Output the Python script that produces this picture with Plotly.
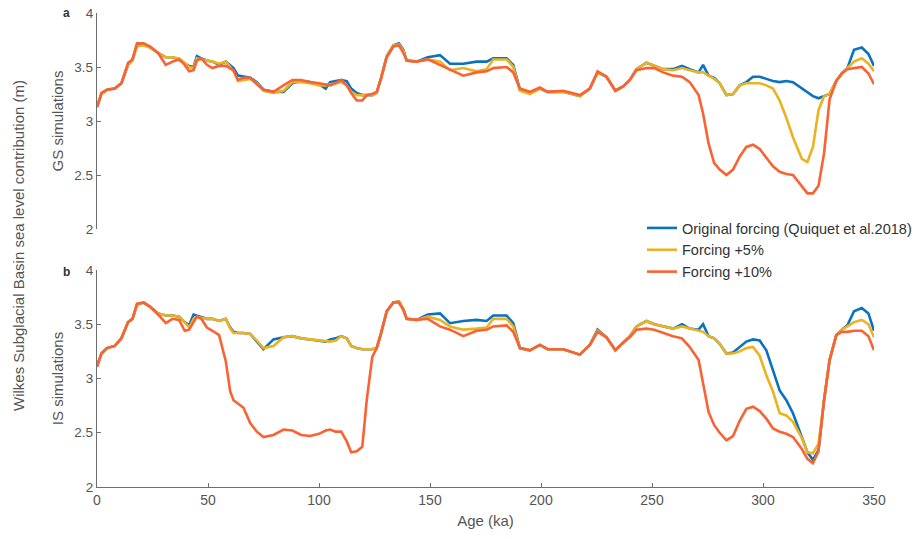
import plotly.graph_objects as go

age_ka = [0, 2, 4.5, 8, 11, 14, 16, 18, 21, 24, 27.5, 31, 34, 37, 39.5, 41.5, 43.5, 45, 47, 49.5,
          52, 55, 58, 60, 61.5, 63.5, 66, 69, 72, 75, 79.5, 84, 88, 92, 96, 100, 103, 105, 107.5, 110,
          112.5, 114.5, 117, 119.5, 121.5, 124, 126, 128, 130.5, 133.5, 136, 138, 139.5, 144, 149, 154.5,
          159, 165, 171, 175.5, 178.5, 184.5, 187.5, 190.5, 195, 199.5, 203, 210, 217.5, 222, 225.5,
          229.5, 233.5, 237, 240, 243, 247.5, 251, 255, 259.5, 263.5, 267, 271, 273, 275.5, 278, 280.5,
          283.5, 286.5, 289.5, 292.5, 295.5, 298.5, 301.5, 304.5, 307.5, 310.5, 313.5, 317.5, 320, 322.5,
          325, 327.5, 330, 333, 335.5, 338, 341, 344.5, 347.5, 350]

gs_original = [3.13, 3.25, 3.29, 3.30, 3.35, 3.52, 3.57, 3.70, 3.71, 3.68, 3.63, 3.59, 3.59, 3.57, 3.53, 3.51, 3.50, 3.60, 3.58, 3.56,
               3.55, 3.52, 3.55, 3.52, 3.49, 3.42, 3.41, 3.40, 3.36, 3.29, 3.27, 3.27, 3.35, 3.37, 3.36, 3.34, 3.30, 3.36, 3.37, 3.38,
               3.37, 3.30, 3.26, 3.24, 3.24, 3.24, 3.26, 3.40, 3.60, 3.70, 3.72, 3.66, 3.56, 3.55, 3.59, 3.61,
               3.53, 3.53, 3.55, 3.55, 3.58, 3.58, 3.52, 3.29, 3.26, 3.30, 3.27, 3.27, 3.23, 3.30, 3.45,
               3.41, 3.28, 3.32, 3.38, 3.48, 3.54, 3.51, 3.48, 3.48, 3.51, 3.48, 3.45, 3.52, 3.42, 3.40, 3.35,
               3.24, 3.25, 3.33, 3.36, 3.41, 3.41, 3.39, 3.37, 3.36, 3.37, 3.36, 3.30, 3.27, 3.23,
               3.21, 3.23, 3.25, 3.37, 3.44, 3.49, 3.66, 3.68, 3.62, 3.51]

gs_plus5 = [3.13, 3.25, 3.29, 3.30, 3.35, 3.52, 3.56, 3.69, 3.70, 3.68, 3.63, 3.59, 3.59, 3.58, 3.54, 3.50, 3.49, 3.58, 3.57, 3.56,
            3.55, 3.53, 3.55, 3.50, 3.46, 3.37, 3.38, 3.39, 3.35, 3.28, 3.26, 3.28, 3.36, 3.36, 3.35, 3.33, 3.33, 3.34, 3.35, 3.36,
            3.33, 3.27, 3.24, 3.24, 3.24, 3.24, 3.26, 3.40, 3.60, 3.70, 3.71, 3.65, 3.56, 3.55, 3.57, 3.55,
            3.47, 3.49, 3.46, 3.48, 3.57, 3.57, 3.50, 3.28, 3.25, 3.30, 3.27, 3.27, 3.23, 3.30, 3.45,
            3.41, 3.28, 3.32, 3.38, 3.48, 3.54, 3.51, 3.48, 3.47, 3.49, 3.47, 3.45, 3.45, 3.42, 3.39, 3.35,
            3.24, 3.25, 3.33, 3.35, 3.35, 3.35, 3.33, 3.30, 3.19, 3.03, 2.85, 2.65, 2.62, 2.76,
            3.10, 3.23, 3.25, 3.37, 3.44, 3.49, 3.55, 3.58, 3.53, 3.46]

gs_plus10 = [3.13, 3.26, 3.29, 3.30, 3.35, 3.54, 3.57, 3.72, 3.72, 3.69, 3.63, 3.52, 3.55, 3.57, 3.52, 3.46, 3.47, 3.56, 3.58, 3.52,
             3.49, 3.51, 3.51, 3.49, 3.47, 3.38, 3.40, 3.40, 3.34, 3.29, 3.27, 3.33, 3.38, 3.38, 3.36, 3.35, 3.34, 3.33, 3.35, 3.38,
             3.33, 3.26, 3.19, 3.19, 3.24, 3.25, 3.27, 3.40, 3.59, 3.69, 3.70, 3.63, 3.56, 3.55, 3.57, 3.52,
             3.48, 3.42, 3.45, 3.46, 3.49, 3.50, 3.45, 3.30, 3.27, 3.31, 3.27, 3.28, 3.24, 3.30, 3.46,
             3.41, 3.28, 3.32, 3.38, 3.47, 3.49, 3.49, 3.45, 3.42, 3.41, 3.36, 3.24, 3.07, 2.79, 2.61, 2.55,
             2.50, 2.55, 2.67, 2.76, 2.78, 2.74, 2.66, 2.58, 2.53, 2.51, 2.50, 2.39, 2.33, 2.33,
             2.40, 2.70, 3.20, 3.37, 3.44, 3.48, 3.49, 3.50, 3.44, 3.34]

is_original = [3.11, 3.23, 3.28, 3.30, 3.37, 3.52, 3.55, 3.68, 3.70, 3.66, 3.60, 3.58, 3.58, 3.57, 3.52, 3.49, 3.59, 3.58, 3.56, 3.55,
               3.55, 3.53, 3.55, 3.47, 3.43, 3.42, 3.42, 3.41, 3.34, 3.27, 3.36, 3.38, 3.39, 3.37, 3.36, 3.35, 3.34, 3.36, 3.37, 3.39,
               3.37, 3.30, 3.28, 3.27, 3.27, 3.27, 3.28, 3.42, 3.62, 3.70, 3.71, 3.64, 3.55, 3.54, 3.59, 3.60,
               3.51, 3.53, 3.54, 3.53, 3.58, 3.58, 3.51, 3.28, 3.26, 3.31, 3.27, 3.27, 3.22, 3.31, 3.45,
               3.38, 3.26, 3.33, 3.39, 3.48, 3.53, 3.50, 3.48, 3.46, 3.50, 3.46, 3.45, 3.50, 3.39, 3.37, 3.32,
               3.23, 3.24, 3.29, 3.34, 3.36, 3.35, 3.26, 3.07, 2.89, 2.80, 2.68, 2.46, 2.32, 2.25,
               2.34, 2.80, 3.17, 3.40, 3.45, 3.49, 3.62, 3.65, 3.60, 3.44]

is_plus5 = [3.11, 3.23, 3.28, 3.30, 3.37, 3.52, 3.55, 3.68, 3.70, 3.66, 3.60, 3.58, 3.58, 3.57, 3.52, 3.47, 3.55, 3.57, 3.56, 3.55,
            3.55, 3.53, 3.55, 3.46, 3.42, 3.42, 3.42, 3.41, 3.35, 3.28, 3.30, 3.38, 3.39, 3.37, 3.36, 3.35, 3.34, 3.34, 3.35, 3.39,
            3.37, 3.30, 3.28, 3.27, 3.27, 3.27, 3.28, 3.42, 3.62, 3.70, 3.71, 3.64, 3.55, 3.54, 3.57, 3.54,
            3.48, 3.45, 3.46, 3.47, 3.55, 3.55, 3.48, 3.28, 3.26, 3.31, 3.27, 3.27, 3.22, 3.31, 3.44,
            3.38, 3.26, 3.33, 3.39, 3.48, 3.53, 3.50, 3.48, 3.46, 3.48, 3.46, 3.44, 3.43, 3.39, 3.37, 3.32,
            3.23, 3.23, 3.25, 3.28, 3.29, 3.21, 3.03, 2.88, 2.68, 2.66, 2.60, 2.45, 2.32, 2.31,
            2.40, 2.80, 3.17, 3.40, 3.45, 3.48, 3.52, 3.54, 3.50, 3.38]

is_plus10 = [3.11, 3.23, 3.28, 3.30, 3.37, 3.52, 3.55, 3.69, 3.70, 3.66, 3.59, 3.51, 3.55, 3.54, 3.44, 3.45, 3.52, 3.57, 3.55, 3.47,
             3.44, 3.40, 3.16, 2.88, 2.80, 2.77, 2.73, 2.59, 2.51, 2.46, 2.48, 2.53, 2.52, 2.48, 2.47, 2.49, 2.52, 2.53, 2.51, 2.51,
             2.42, 2.32, 2.33, 2.37, 2.80, 3.20, 3.28, 3.42, 3.62, 3.70, 3.70, 3.63, 3.55, 3.54, 3.55, 3.48,
             3.45, 3.39, 3.44, 3.45, 3.48, 3.49, 3.43, 3.28, 3.26, 3.31, 3.27, 3.27, 3.22, 3.31, 3.43,
             3.38, 3.26, 3.33, 3.38, 3.45, 3.46, 3.45, 3.42, 3.39, 3.37, 3.29, 3.17, 2.96, 2.69, 2.57, 2.50,
             2.43, 2.47, 2.61, 2.72, 2.74, 2.70, 2.63, 2.54, 2.51, 2.49, 2.46, 2.35, 2.26, 2.22,
             2.33, 2.80, 3.17, 3.40, 3.43, 3.43, 3.44, 3.44, 3.39, 3.26]

series_names = ["Original forcing (Quiquet et al.2018)", "Forcing +5%", "Forcing +10%"]
colors = ["#0a72c0", "#ecb321", "#fb6233"]

FONT = "Liberation Sans, Arial, sans-serif"
AXIS_COL = "#6e6e6e"
TXT_COL = "#555555"

# plot area in pixels: x 97..874, y 13..487
L, R, T, B = 97, 915 - 874, 13, 539 - 487
PW, PH = 915 - L - R, 539 - T - B


def px(xp):
    return (xp - L) / PW


def py(yp):
    return (539 - B - yp) / PH


fig = go.Figure()
for vals, name, col in zip([gs_original, gs_plus5, gs_plus10], series_names, colors):
    fig.add_trace(go.Scatter(x=age_ka, y=vals, mode="lines", name=name,
                             line=dict(color=col, width=2.6), xaxis="x", yaxis="y"))
for vals, name, col in zip([is_original, is_plus5, is_plus10], series_names, colors):
    fig.add_trace(go.Scatter(x=age_ka, y=vals, mode="lines", name=name, showlegend=False,
                             line=dict(color=col, width=2.6), xaxis="x2", yaxis="y2"))

yaxis_common = dict(range=[2, 4], tickvals=[2, 2.5, 3, 3.5, 4], ticktext=["2", "2.5", "3", "3.5", "4"],
                    showline=True, linecolor=AXIS_COL, linewidth=1.3, ticks="inside", ticklen=4,
                    tickcolor=AXIS_COL, showgrid=False, zeroline=False, automargin=False,
                    tickfont=dict(family=FONT, size=13.5, color=TXT_COL))

fig.update_layout(
    width=915, height=539,
    margin=dict(l=L, r=R, t=T, b=B, autoexpand=False),
    paper_bgcolor="white", plot_bgcolor="white",
    font=dict(family=FONT, color=TXT_COL),
    xaxis=dict(domain=[0, 1], range=[0, 350], visible=False, anchor="y"),
    yaxis=dict(domain=[py(229), 1], anchor="x",
               title=dict(text="GS simulations", font=dict(family=FONT, size=15, color=TXT_COL), standoff=7),
               **yaxis_common),
    xaxis2=dict(domain=[0, 1], range=[0, 350], anchor="y2", tickvals=[0, 50, 100, 150, 200, 250, 300, 350],
                showline=True, linecolor=AXIS_COL, linewidth=1.3, ticks="inside", ticklen=4,
                tickcolor=AXIS_COL, showgrid=False, zeroline=False, automargin=False,
                tickfont=dict(family=FONT, size=14, color=TXT_COL),
                title=dict(text="Age (ka)", font=dict(family=FONT, size=15, color=TXT_COL), standoff=8)),
    yaxis2=dict(domain=[0, py(270)], anchor="x2",
                title=dict(text="IS simulations", font=dict(family=FONT, size=15, color=TXT_COL), standoff=7),
                **yaxis_common),
    legend=dict(x=px(642), y=py(212), xanchor="left", yanchor="top",
                bgcolor="rgba(0,0,0,0)", font=dict(family=FONT, size=14.5, color="#333333"),
                tracegroupgap=0, itemwidth=30),
    showlegend=True,
)

fig.add_annotation(text="Wilkes Subglacial Basin sea level contribution (m)", xref="paper", yref="paper",
                   x=px(18), y=py(246), textangle=-90, showarrow=False, xanchor="center", yanchor="middle",
                   font=dict(family=FONT, size=15, color=TXT_COL))
fig.add_annotation(text="<b>a</b>", xref="paper", yref="paper", x=px(66), y=py(13),
                   xanchor="center", yanchor="middle",
                   showarrow=False, font=dict(family=FONT, size=12, color="#333333"))
fig.add_annotation(text="<b>b</b>", xref="paper", yref="paper", x=px(66), y=py(272),
                   xanchor="center", yanchor="middle",
                   showarrow=False, font=dict(family=FONT, size=12, color="#333333"))

fig.write_html("out.html", config={"displayModeBar": False},
               post_script="document.body.style.margin='0px';document.body.style.padding='0px';")
